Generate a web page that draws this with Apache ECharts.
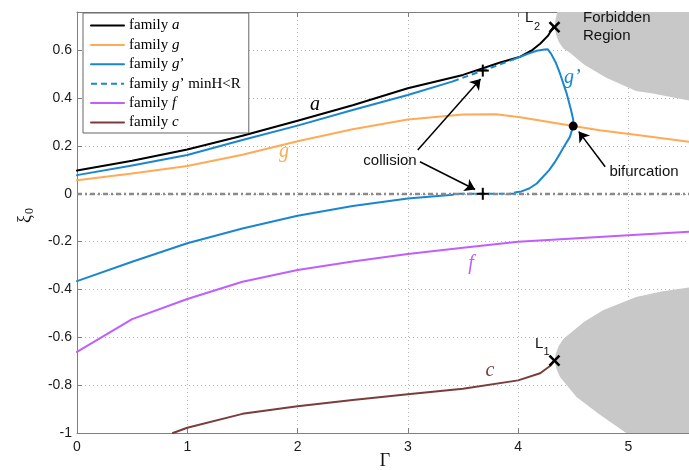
<!DOCTYPE html>
<html>
<head>
<meta charset="utf-8">
<script src="https://cdn.jsdelivr.net/npm/echarts@6/dist/echarts.min.js"></script>
<style>
  html, body { margin: 0; padding: 0; background: #fff; }
  #chart { width: 689px; height: 470px; }
</style>
</head>
<body>
<div id="chart"></div>
<script>
// ---- family curves (Gamma, xi_0) ----
const aX = [0, 0.5, 1, 1.5, 2, 2.5, 3, 3.5, 3.83, 4.02, 4.12, 4.2, 4.27, 4.32];
const aY = [0.097, 0.138, 0.185, 0.243, 0.305, 0.37, 0.441, 0.497, 0.548, 0.573, 0.598, 0.627, 0.66, 0.697];

const gX = [0, 0.5, 1, 1.5, 2, 2.5, 3, 3.5, 3.8, 4.02, 4.5, 4.74, 5.1, 5.55];
const gY = [0.057, 0.085, 0.116, 0.163, 0.22, 0.27, 0.311, 0.332, 0.333, 0.32, 0.283, 0.266, 0.245, 0.218];

// g' : upper solid branch, loop, lower solid branch
const gpUpX = [0, 0.5, 1, 1.5, 2, 2.5, 3, 3.41];
const gpUpY = [0.078, 0.118, 0.162, 0.225, 0.285, 0.35, 0.413, 0.47];
const gpLoopX = [3.96, 4.02, 4.1, 4.17, 4.24, 4.27, 4.3, 4.34, 4.38, 4.44, 4.48, 4.5, 4.5, 4.47, 4.42, 4.38, 4.33, 4.28, 4.22, 4.17, 4.1, 4.03, 3.97];
const gpLoopY = [0.562, 0.573, 0.587, 0.598, 0.603, 0.604, 0.585, 0.55, 0.503, 0.42, 0.35, 0.31, 0.283, 0.238, 0.2, 0.168, 0.13, 0.098, 0.068, 0.043, 0.022, 0.01, 0.005];
const gpLowX = [3.41, 3, 2.5, 2, 1.5, 1, 0.5, 0];
const gpLowY = [-0.004, -0.02, -0.051, -0.092, -0.145, -0.207, -0.284, -0.365];

// g' where minH < R (dashed)
const gpDashX = [3.41, 3.57, 3.68, 3.83, 3.96];
const gpDashY = [0.47, 0.497, 0.515, 0.54, 0.562];
const gpDashZeroX = [3.97, 3.41];
const gpDashZeroY = [0, 0];

const fX = [0, 0.5, 1, 1.5, 2, 2.5, 3, 3.5, 4, 4.5, 5, 5.55];
const fY = [-0.661, -0.524, -0.44, -0.368, -0.319, -0.283, -0.252, -0.226, -0.2, -0.187, -0.173, -0.159];

const cX = [0.87, 1, 1.5, 2, 2.5, 3, 3.5, 4, 4.2, 4.29, 4.33];
const cY = [-1.0, -0.978, -0.92, -0.888, -0.862, -0.838, -0.815, -0.78, -0.75, -0.72, -0.697];

// ---- forbidden region outlines ----
const upLobeX = [4.33, 4.345, 4.37, 4.41, 4.47, 4.6, 4.8, 5.07, 5.21, 5.55, 5.7, 5.7, 4.42, 4.38, 4.355, 4.34, 4.33];
const upLobeY = [0.697, 0.665, 0.635, 0.607, 0.59, 0.54, 0.485, 0.43, 0.42, 0.39, 0.385, 0.95, 0.9, 0.82, 0.76, 0.73, 0.697];
const lowLobeX = [4.33, 4.345, 4.37, 4.41, 4.47, 4.6, 4.77, 5.07, 5.3, 5.55, 5.7, 5.7, 5.1, 4.98, 4.73, 4.53, 4.38, 4.35, 4.33];
const lowLobeY = [-0.697, -0.665, -0.635, -0.607, -0.584, -0.535, -0.487, -0.431, -0.408, -0.392, -0.385, -1.1, -1.1, -1.0, -0.92, -0.85, -0.766, -0.735, -0.697];

// ---- special points ----
const plusX = [3.68, 3.68];
const plusY = [0.515, 0];
const crossX = [4.33, 4.33];
const crossY = [0.697, -0.697];
const dotX = [4.5];
const dotY = [0.283];

// annotation arrows: [tailX, tailY, tipX, tipY]
const arrows = [
  [3.09, 0.183, 3.66, 0.48],
  [3.11, 0.134, 3.61, 0.018],
  [4.79, 0.113, 4.55, 0.26]
];

// ---- axes ----
const xMin = 0, xMax = 5.55, xStep = 1;
const yMin = -1, yMax = 0.76, yStep = 0.2;

const BLACK = '#000000', ORANGE = '#ffaa55', BLUE = '#1a86d0', PURPLE = '#bf5fff', BROWN = '#7a3c3c';
const GP = 'family g\u2019';
const GPD = 'family g\u2019 minH<R';

const zip = (xs, ys) => xs.map((x, i) => [x, ys[i]]);

function curve(name, xs, ys, color, dashed) {
  return {
    type: 'line', name, data: zip(xs, ys),
    symbol: 'none', showSymbol: false, silent: true, clip: true,
    emphasis: { disabled: true },
    lineStyle: { color, width: 2, type: dashed ? [6, 4] : 'solid', cap: dashed ? 'butt' : 'round', join: 'round' },
    itemStyle: { color },
    z: 2
  };
}

function markerSeries(xs, ys, draw) {
  return {
    type: 'custom', data: zip(xs, ys), encode: { x: 0, y: 1 }, silent: true, z: 10,
    renderItem: (params, api) => draw(api.coord([api.value(0), api.value(1)]))
  };
}

function lobeSeries(xs, ys) {
  return {
    type: 'custom', data: zip(xs, ys), encode: { x: 0, y: 1 }, silent: true, z: 1, clip: true,
    renderItem: (params, api) => {
      if (params.dataIndex !== 0) return;
      const cs = params.coordSys;
      const pts = xs.map((x, i) => api.coord([x, ys[i]]));
      return {
        type: 'group',
        clipPath: { type: 'rect', shape: { x: cs.x, y: cs.y, width: cs.width, height: cs.height } },
        children: [{ type: 'polygon', shape: { points: pts }, style: { fill: '#c8c8c8', stroke: null } }]
      };
    }
  };
}

const stroke = { stroke: '#000', lineWidth: 2 };
const drawPlus = p => ({ type: 'group', children: [
  { type: 'line', shape: { x1: p[0] - 6, y1: p[1], x2: p[0] + 6, y2: p[1] }, style: stroke },
  { type: 'line', shape: { x1: p[0], y1: p[1] - 6, x2: p[0], y2: p[1] + 6 }, style: stroke }
]});
const drawCross = p => ({ type: 'group', children: [
  { type: 'line', shape: { x1: p[0] - 5, y1: p[1] - 5, x2: p[0] + 5, y2: p[1] + 5 }, style: { stroke: '#000', lineWidth: 2.5 } },
  { type: 'line', shape: { x1: p[0] - 5, y1: p[1] + 5, x2: p[0] + 5, y2: p[1] - 5 }, style: { stroke: '#000', lineWidth: 2.5 } }
]});
const drawDot = p => ({ type: 'circle', shape: { cx: p[0], cy: p[1], r: 4.5 }, style: { fill: '#000' } });

const sans = 'Liberation Sans, Arial, sans-serif';
const serif = 'Liberation Serif, Times New Roman, serif';

const chart = echarts.init(document.getElementById('chart'), null, { renderer: 'canvas' });

chart.setOption({
  animation: false,
  backgroundColor: '#ffffff',
  grid: { left: 77, top: 12, width: 612, height: 421, containLabel: false },
  xAxis: [{
    type: 'value', min: xMin, max: xMax, interval: xStep,
    axisLine: { show: true, onZero: false, lineStyle: { color: '#7f7f7f', width: 1 } },
    axisTick: { show: true, inside: true, length: 5, lineStyle: { color: '#7f7f7f' } },
    axisLabel: { color: '#1a1a1a', fontFamily: sans, fontSize: 14, margin: 7, showMaxLabel: false },
    splitLine: { show: true, lineStyle: { color: '#b8b8b8', width: 1, type: [1, 3] } }
  }, {
    type: 'value', position: 'top', min: xMin, max: xMax, interval: xStep,
    axisLine: { show: true, onZero: false, lineStyle: { color: '#7f7f7f', width: 1 } },
    axisTick: { show: true, inside: true, length: 5, lineStyle: { color: '#7f7f7f' } },
    axisLabel: { show: false }, splitLine: { show: false }
  }],
  yAxis: {
    type: 'value', min: yMin, max: yMax, interval: yStep,
    axisLine: { show: true, onZero: false, lineStyle: { color: '#7f7f7f', width: 1 } },
    axisTick: { show: true, inside: true, length: 5, lineStyle: { color: '#7f7f7f' } },
    axisLabel: { color: '#1a1a1a', fontFamily: sans, fontSize: 14, margin: 5, showMaxLabel: false,
      formatter: v => String(Math.round(v * 10) / 10) },
    splitLine: { show: true, lineStyle: { color: '#b8b8b8', width: 1, type: [1, 3] } }
  },
  legend: {
    orient: 'vertical', left: 83, top: 13,
    itemWidth: 33, itemHeight: 14, itemGap: 4.4,
    padding: [5, 8, 3, 7],
    borderColor: '#666', borderWidth: 1, backgroundColor: '#ffffff',
    selectedMode: false,
    itemStyle: { opacity: 0 },
    data: ['family a', 'family g', GP, GPD, 'family f', 'family c'],
    textStyle: {
      fontFamily: serif, fontSize: 15, color: '#000', lineHeight: 14,
      rich: {
        r: { fontFamily: serif, fontSize: 15, color: '#000', lineHeight: 14 },
        i: { fontFamily: serif, fontSize: 15, color: '#000', fontStyle: 'italic', lineHeight: 14 }
      }
    },
    formatter: name => {
      const rest = name.slice('family '.length);
      return '{r|family }{i|' + rest[0] + '}{r|' + rest.slice(1) + '}';
    }
  },
  series: [
    lobeSeries(upLobeX, upLobeY),
    lobeSeries(lowLobeX, lowLobeY),
    curve('family a', aX, aY, BLACK, false),
    curve('family g', gX, gY, ORANGE, false),
    curve(GP, gpUpX, gpUpY, BLUE, false),
    curve(GP, gpLoopX, gpLoopY, BLUE, false),
    curve(GP, gpLowX, gpLowY, BLUE, false),
    curve(GPD, gpDashX, gpDashY, BLUE, true),
    curve(GPD, gpDashZeroX, gpDashZeroY, BLUE, true),
    curve('family f', fX, fY, PURPLE, false),
    curve('family c', cX, cY, BROWN, false),
    {
      // zero reference line
      type: 'line', name: 'zero', data: [], silent: true, z: 3,
      markLine: {
        silent: true, symbol: ['none', 'none'], label: { show: false },
        lineStyle: { color: '#8a8a8a', width: 2.3, type: [5, 3, 2, 3] },
        emphasis: { disabled: true },
        data: [{ yAxis: 0 }]
      }
    },
    {
      // annotation arrows
      type: 'line', name: 'arrows', data: [], silent: true, z: 9,
      markLine: {
        silent: true, symbol: ['none', 'arrow'], symbolSize: 10, label: { show: false },
        lineStyle: { color: '#000', width: 1.5, type: 'solid' },
        emphasis: { disabled: true },
        data: arrows.map(a => [{ coord: [a[0], a[1]] }, { coord: [a[2], a[3]] }])
      }
    },
    markerSeries(plusX, plusY, drawPlus),
    markerSeries(crossX, crossY, drawCross),
    markerSeries(dotX, dotY, drawDot)
  ],
  graphic: [
    // curve names
    { type: 'text', x: 315, y: 105, style: { text: 'a', font: 'italic 20px ' + serif, fill: '#000', textAlign: 'center', textVerticalAlign: 'middle' }, z: 20 },
    { type: 'text', x: 284, y: 152, style: { text: 'g', font: 'italic 20px ' + serif, fill: ORANGE, textAlign: 'center', textVerticalAlign: 'middle' }, z: 20 },
    { type: 'text', x: 564, y: 78, style: { text: 'g\u2019', font: 'italic 20px ' + serif, fill: BLUE, textAlign: 'left', textVerticalAlign: 'middle' }, z: 20 },
    { type: 'text', x: 471, y: 264, style: { text: 'f', font: 'italic 20px ' + serif, fill: PURPLE, textAlign: 'center', textVerticalAlign: 'middle' }, z: 20 },
    { type: 'text', x: 490, y: 371, style: { text: 'c', font: 'italic 20px ' + serif, fill: BROWN, textAlign: 'center', textVerticalAlign: 'middle' }, z: 20 },
    // Lagrange points
    { type: 'text', x: 525, y: 18, style: { text: 'L', font: '15px ' + sans, fill: '#111', textAlign: 'left', textVerticalAlign: 'middle' }, z: 20 },
    { type: 'text', x: 534, y: 27, style: { text: '2', font: '11px ' + sans, fill: '#111', textAlign: 'left', textVerticalAlign: 'middle' }, z: 20 },
    { type: 'text', x: 535, y: 344, style: { text: 'L', font: '15px ' + sans, fill: '#111', textAlign: 'left', textVerticalAlign: 'middle' }, z: 20 },
    { type: 'text', x: 543.5, y: 352, style: { text: '1', font: '11px ' + sans, fill: '#111', textAlign: 'left', textVerticalAlign: 'middle' }, z: 20 },
    // annotations
    { type: 'text', x: 390, y: 161, style: { text: 'collision', font: '15px ' + sans, fill: '#111', textAlign: 'center', textVerticalAlign: 'middle' }, z: 20 },
    { type: 'text', x: 644, y: 172, style: { text: 'bifurcation', font: '15px ' + sans, fill: '#111', textAlign: 'center', textVerticalAlign: 'middle' }, z: 20 },
    { type: 'text', x: 583, y: 18, style: { text: 'Forbidden', font: '15px ' + sans, fill: '#111', textAlign: 'left', textVerticalAlign: 'middle' }, z: 20 },
    { type: 'text', x: 583, y: 36, style: { text: 'Region', font: '15px ' + sans, fill: '#111', textAlign: 'left', textVerticalAlign: 'middle' }, z: 20 },
    // axis titles
    { type: 'text', x: 385, y: 461, style: { text: '\u0393', font: '18px ' + serif, fill: '#111', textAlign: 'center', textVerticalAlign: 'middle' }, z: 20 },
    { type: 'group', x: 25, y: 213, rotation: Math.PI / 2, z: 20, children: [
      { type: 'text', x: -2, y: 0, style: { text: '\u03be', font: '18px ' + serif, fill: '#111', textAlign: 'right', textVerticalAlign: 'middle' } },
      { type: 'text', x: -1, y: 5, style: { text: '0', font: '12px ' + serif, fill: '#111', textAlign: 'left', textVerticalAlign: 'middle' } }
    ] }
  ]
});
</script>
</body>
</html>
